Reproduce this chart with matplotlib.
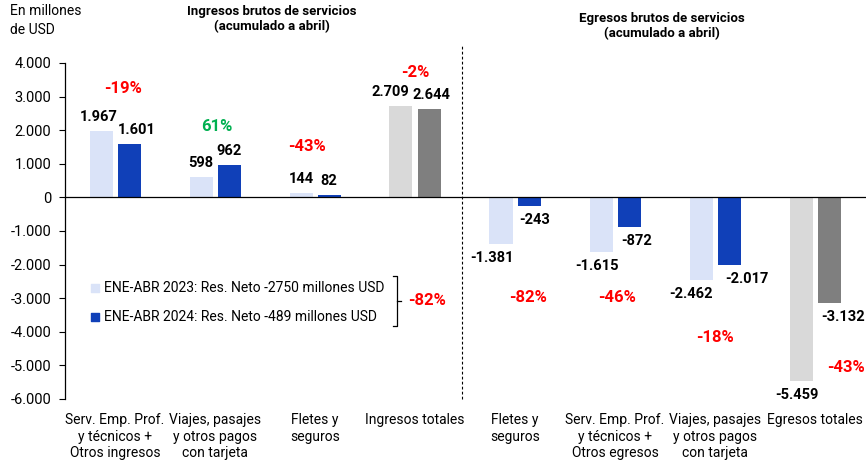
import matplotlib
matplotlib.use("Agg")
import matplotlib.pyplot as plt
import numpy as np

plt.rcParams['font.family'] = ['Roboto', 'DejaVu Sans']

categories = ["Serv. Emp. Prof.\ny técnicos +\nOtros ingresos",
              "Viajes, pasajes\ny otros pagos\ncon tarjeta",
              "Fletes y\nseguros",
              "Ingresos totales",
              "Fletes y\nseguros",
              "Serv. Emp. Prof.\ny técnicos +\nOtros egresos",
              "Viajes, pasajes\ny otros pagos\ncon tarjeta",
              "Egresos totales"]
vals_2023 = [1967, 598, 144, 2709, -1381, -1615, -2462, -5459]
vals_2024 = [1601, 962, 82, 2644, -243, -872, -2017, -3132]
labels_2023 = ["1.967", "598", "144", "2.709", "-1.381", "-1.615", "-2.462", "-5.459"]
labels_2024 = ["1.601", "962", "82", "2.644", "-243", "-872", "-2.017", "-3.132"]
pct_labels = ["-19%", "61%", "-43%", "-2%", "-82%", "-46%", "-18%", "-43%"]
pct_colors = ["#FF0000", "#00B050", "#FF0000", "#FF0000", "#FF0000", "#FF0000", "#FF0000", "#FF0000"]
pct_x = [0.08, 1.02, 1.92, 3.0, 4.13, 5.02, 6.0, 7.31]
pct_y = [3250, 2110, 1520, 3720, -2980, -2980, -4170, -5060]
legend_labels = ["ENE-ABR 2023: Res. Neto -2750 millones USD",
                 "ENE-ABR 2024: Res. Neto -489 millones USD"]
net_pct = "-82%"
yticks = [4000, 3000, 2000, 1000, 0, -1000, -2000, -3000, -4000, -5000, -6000]
ytick_labels = ["4.000", "3.000", "2.000", "1.000", "0", "-1.000", "-2.000",
                "-3.000", "-4.000", "-5.000", "-6.000"]

# label horizontal nudges (pixels)
dx_2023 = [-2, 0, 0, -11, -9, -4, -10, -4]
dx_2024 = [8, 0, 0, 2, 6, 8, 18, 14]

c23 = ["#DAE3F8"] * 3 + ["#D9D9D9"] + ["#DAE3F8"] * 3 + ["#D9D9D9"]
c24 = ["#1040B8"] * 3 + ["#7F7F7F"] + ["#1040B8"] * 3 + ["#7F7F7F"]

fig = plt.figure(figsize=(8.67, 4.63), dpi=100)
ax = fig.add_axes([65/867, (463-399)/463, 801/867, 336/463])

x = np.arange(len(categories))
w = 0.23
off = 0.14
ax.bar(x - off, vals_2023, w, color=c23, zorder=2)
ax.bar(x + off, vals_2024, w, color=c24, zorder=2)

for i in range(len(categories)):
    for xv, v, lab, dx in ((x[i] - off, vals_2023[i], labels_2023[i], dx_2023[i]),
                           (x[i] + off, vals_2024[i], labels_2024[i], dx_2024[i])):
        dy = 14 if v >= 0 else -14
        ax.annotate(lab, (xv, v), xytext=(dx, dy), textcoords="offset pixels",
                    ha="center", va="center", fontsize=10.5, fontweight="bold")
    ax.text(pct_x[i], pct_y[i], pct_labels[i], color=pct_colors[i], ha="center", va="center",
            fontsize=12, fontweight="bold")

ax.axhline(0, color="black", lw=0.9, zorder=3)
ax.set_xlim(-0.5, 7.51)
ax.set_ylim(-6000, 4000)
ax.set_yticks(yticks)
ax.set_yticklabels(ytick_labels, fontsize=10.5)
ax.set_xticks(x)
ax.set_xticklabels(categories, fontsize=10, linespacing=1.25)
ax.tick_params(axis="x", length=0, pad=10)
ax.tick_params(axis="y", length=4, width=0.8, pad=6)
for s in ["top", "right", "bottom"]:
    ax.spines[s].set_visible(False)
ax.spines["left"].set_linewidth(0.9)

# dashed separator
ax.plot([3.47, 3.47], [-6000, 4540], ls=(0, (2.5, 2)), color="black", lw=0.8, clip_on=False)

# legend (manual)
ax.scatter([-0.2], [-2710], marker="s", s=40, color="#DAE3F8", zorder=4)
ax.scatter([-0.2], [-3570], marker="s", s=40, color="#1040B8", zorder=4)
ax.text(-0.11, -2710, legend_labels[0], va="center", ha="left", fontsize=10)
ax.text(-0.11, -3570, legend_labels[1], va="center", ha="left", fontsize=10)
# bracket
ax.plot([2.78, 2.82, 2.82, 2.78], [-2350, -2350, -3840, -3840], color="black", lw=0.9)
ax.plot([2.82, 2.86], [-3080, -3080], color="black", lw=0.9)
ax.text(3.12, -3080, net_pct, color="#FF0000", ha="center", va="center", fontsize=12, fontweight="bold")

fig.text(10/867, 1 - 4/463, "En millones\nde USD", ha="left", va="top", fontsize=10, linespacing=1.45)
fig.text(272/867, 1 - 19/463, "Ingresos brutos de servicios\n(acumulado a abril)", ha="center", va="center",
         fontsize=9.5, fontweight="bold", linespacing=1.15)
fig.text(662/867, 1 - 26/463, "Egresos brutos de servicios\n(acumulado a abril)", ha="center", va="center",
         fontsize=9.5, fontweight="bold", linespacing=1.15)

fig.savefig("out.png", dpi=100)
